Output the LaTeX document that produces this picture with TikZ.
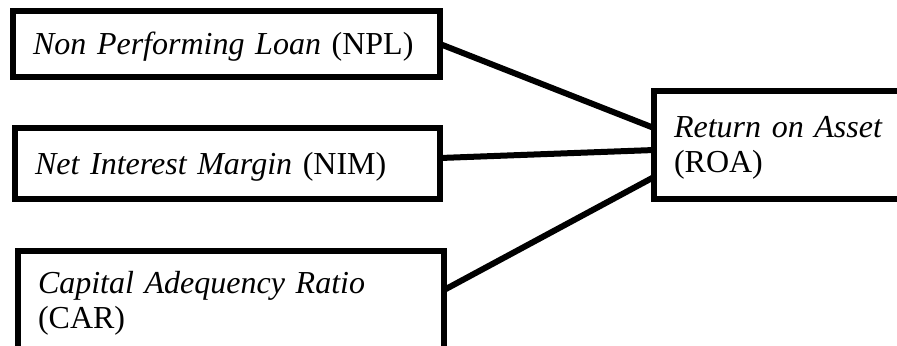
\documentclass[tikz,border=0pt]{standalone}
\usepackage{fontspec}
\setmainfont{Liberation Serif}
\usepackage{tikz}
\usetikzlibrary{positioning}

\begin{document}
\begin{tikzpicture}[
  x=0.5pt, y=-0.5pt,
  b/.style={draw, line width=3pt, outer sep=0pt, inner xsep=10pt, inner ysep=0pt,
    anchor=north west, align=left, text height=14pt, font=\fontsize{16}{17.5}\selectfont},
  ln/.style={line width=3pt}
]
\path[use as bounding box, clip] (0,0) rectangle (897,345);

\node[b, minimum width=213.5pt, minimum height=33pt, text width=193.5pt] (npl) at (13,11)
  {\textit{Non Performing Loan} (NPL)};
\node[b, minimum width=212.5pt, minimum height=35.5pt, text width=192.5pt] (nim) at (15,128)
  {\textit{Net Interest Margin} (NIM)};
\node[b, minimum width=213pt, minimum height=49.5pt, text width=193pt] (car) at (18,251)
  {\textit{Capital Adequency Ratio}\\(CAR)};
\node[b, minimum width=150pt, minimum height=54pt, text width=130pt] (roa) at (654,90.5)
  {\textit{Return on Asset}\\(ROA)};

\foreach \i/\s/\t in {npl/0pt/8.25pt, nim/2.75pt/-2.75pt, car/5.25pt/-16.25pt}
  \draw[ln] ([yshift=\s]\i.east) -- ([yshift=\t]roa.west);
\end{tikzpicture}
\end{document}
